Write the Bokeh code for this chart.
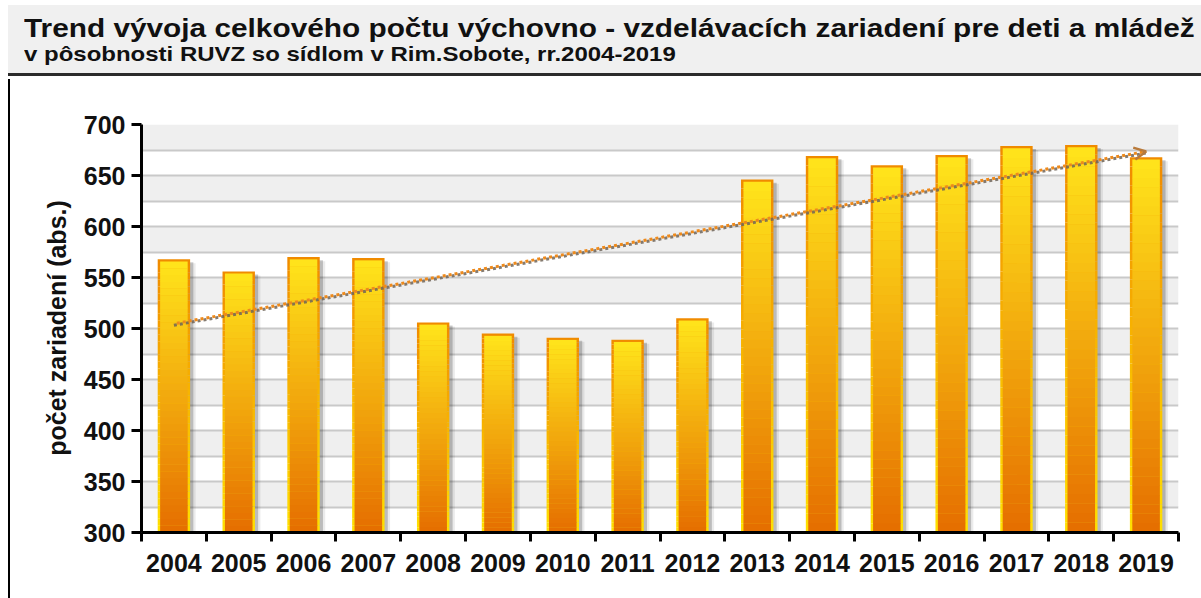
import numpy as np
from bokeh.plotting import figure
from bokeh.models import Div, FixedTicker, Arrow, OpenHead, Range1d
from bokeh.layouts import column, row
from bokeh.embed import file_html
from bokeh.resources import INLINE

# ---- data ----
years = ["2004", "2005", "2006", "2007", "2008", "2009", "2010", "2011",
         "2012", "2013", "2014", "2015", "2016", "2017", "2018", "2019"]
counts = [568, 556, 570, 569, 506, 495, 491, 489,
          510, 646, 669, 660, 670, 679, 680, 668]
title_text = "Trend vývoja celkového počtu výchovno - vzdelávacích zariadení pre deti a mládež"
subtitle_text = "v pôsobnosti RUVZ so sídlom v Rim.Sobote, rr.2004-2019"
y_label = "počet zariadení (abs.)"
y_ticks = [300, 350, 400, 450, 500, 550, 600, 650, 700]
y_grid = [300, 325, 350, 375, 400, 425, 450, 475, 500, 525, 550, 575, 600, 625, 650, 675, 700]
y_start, y_end = 300, 700

FONT = "Liberation Sans"

n = len(years)
centers = [i + 0.5 for i in range(n)]

# ---- header ----
header = Div(
    width=1193, height=74, margin=(5, 0, 0, 8),
    text=(
        '<div style="position:relative;width:1193px;height:71px;background:#f0f0f0;'
        'border-bottom:3px solid #2b2b2b;font-family:\'Liberation Sans\';font-weight:bold;color:#111;">'
        '<div style="position:absolute;left:16px;top:13px;font-size:26px;line-height:20px;white-space:nowrap;'
        'transform:scaleX(1.146);transform-origin:0 0;">'
        + title_text + '</div>'
        '<div style="position:absolute;left:16px;top:41px;font-size:20.5px;line-height:16px;white-space:nowrap;'
        'transform:scaleX(1.17);transform-origin:0 0;">'
        + subtitle_text + '</div></div>'
    ),
)

# ---- y axis title (rotated) ----
ylab = Div(
    width=70, height=519, margin=0,
    text=(
        '<div style="position:relative;width:70px;height:519px;">'
        '<div style="position:absolute;left:47px;top:249px;transform:translate(-50%,-50%) rotate(-90deg);'
        'white-space:nowrap;font-family:\'Liberation Sans\';font-weight:bold;font-size:25px;line-height:25px;color:#111;">'
        + y_label + '</div></div>'
    ),
)

# ---- figure ----
p = figure(width=1121, height=519, output_backend="svg", toolbar_location=None,
           x_range=Range1d(0, n), y_range=Range1d(y_start, y_end),
           min_border_left=60, min_border_right=23, min_border_top=45, min_border_bottom=66)
p.margin = 0
p.background_fill_color = "white"
p.border_fill_color = "white"
p.outline_line_color = None

p.xgrid.visible = False
p.ygrid.ticker = FixedTicker(ticks=y_grid)
p.ygrid.grid_line_color = "#c9c9c9"
p.ygrid.grid_line_width = 2
p.ygrid.band_fill_color = "#efefef"
p.ygrid.band_fill_alpha = 1.0


def lerp(c1, c2, t):
    a = [int(c1[i:i + 2], 16) for i in (1, 3, 5)]
    b = [int(c2[i:i + 2], 16) for i in (1, 3, 5)]
    return "#%02x%02x%02x" % tuple(round(a[k] + (b[k] - a[k]) * t) for k in range(3))


N = 40
bar_w = 0.5
inner_w = bar_w - 0.075
top_pad = 2.5

# shadows
p.vbar(x=[c + 0.085 for c in centers], top=[v - 4 for v in counts], bottom=y_start,
       width=bar_w, fill_color="black", fill_alpha=0.08, line_color=None)
p.vbar(x=[c + 0.05 for c in centers], top=[v - 3 for v in counts], bottom=y_start,
       width=bar_w, fill_color="black", fill_alpha=0.2, line_color=None)

# outline (orange top -> yellow bottom) and fill (orange bottom -> yellow top)
for k in range(N):
    t0, t1 = k / N, (k + 1) / N
    tc = (k + 0.5) / N
    p.vbar(x=centers, bottom=[y_start + (v - y_start) * t0 for v in counts],
           top=[y_start + (v - y_start) * t1 for v in counts],
           width=bar_w, fill_color=lerp("#ffe000", "#f08a00", tc), line_color=None)
for k in range(N):
    t0, t1 = k / N, (k + 1) / N
    tc = (k + 0.5) / N
    p.vbar(x=centers, bottom=[y_start + (v - top_pad - y_start) * t0 for v in counts],
           top=[y_start + (v - top_pad - y_start) * t1 + 0.3 for v in counts],
           width=inner_w, fill_color=lerp("#e56e00", "#ffe41b", tc), line_color=None)

# trend line (linear fit)
idx = np.arange(n)
slope, intercept = np.polyfit(idx, np.array(counts, dtype=float), 1)
tx = [centers[0], centers[-1]]
ty = [intercept, intercept + slope * (n - 1)]
p.line(tx, [v - 1.5 for v in ty], line_color="#6f6458", line_width=3, line_dash="3 3", line_alpha=0.85)
p.line(tx, ty, line_color="#ee8a1c", line_width=3, line_dash="3 3", line_dash_offset=3)
p.add_layout(Arrow(end=OpenHead(size=12, line_color="#b97a3a", line_width=2.5),
                   x_start=tx[1] - 0.05, y_start=ty[1] - slope * 0.05,
                   x_end=tx[1], y_end=ty[1], line_alpha=0))

# axes
p.yaxis.ticker = FixedTicker(ticks=y_ticks)
p.yaxis.major_label_text_font = FONT
p.yaxis.major_label_text_font_style = "bold"
p.yaxis.major_label_text_font_size = "25px"
p.yaxis.major_label_text_color = "#111111"
p.yaxis.major_label_standoff = 6
p.yaxis.axis_line_width = 3
p.yaxis.axis_line_color = "black"
p.yaxis.major_tick_line_width = 3
p.yaxis.major_tick_out = 10
p.yaxis.major_tick_in = 0
p.yaxis.minor_tick_line_color = None

p.xaxis.ticker = FixedTicker(ticks=centers, minor_ticks=list(range(n + 1)))
p.xaxis.major_label_overrides = {c: y for c, y in zip(centers, years)}
p.xaxis.major_label_text_font = FONT
p.xaxis.major_label_text_font_style = "bold"
p.xaxis.major_label_text_font_size = "25px"
p.xaxis.major_label_text_color = "#111111"
p.xaxis.major_label_standoff = 12
p.xaxis.axis_line_width = 3
p.xaxis.axis_line_color = "black"
p.xaxis.major_tick_line_color = None
p.xaxis.major_tick_out = 0
p.xaxis.major_tick_in = 0
p.xaxis.minor_tick_line_color = "black"
p.xaxis.minor_tick_line_width = 3
p.xaxis.minor_tick_out = 9
p.xaxis.minor_tick_in = 0

left_border = Div(width=2, height=519, margin=(0, 0, 0, 8), styles={"background-color": "black"})
layout = column(header, row(left_border, ylab, p, spacing=0, margin=0), spacing=0, margin=0)

open("out.html", "w").write(file_html(layout, INLINE))
